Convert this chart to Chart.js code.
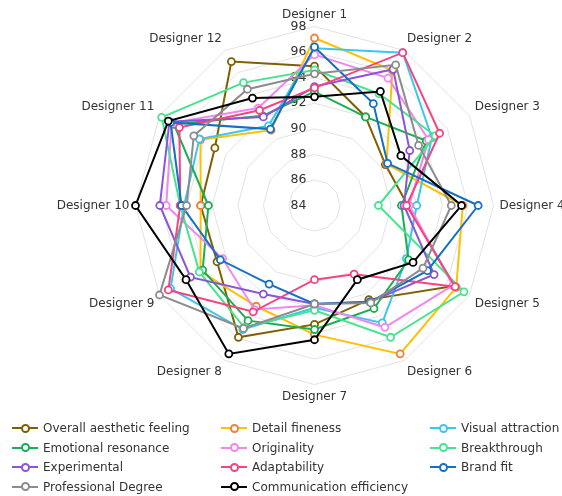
<!DOCTYPE html>
<html>
<head>
<meta charset="utf-8">
<script src="https://cdn.jsdelivr.net/npm/chart.js@4.4.1/dist/chart.umd.min.js"></script>
<style>
  html, body { margin: 0; padding: 0; background: #fff; }
  #wrap { position: relative; width: 562px; height: 496px; overflow: hidden; }
  #chart { position: absolute; left: 0; top: 0; }
  #legend { position: absolute; left: 0; top: 0; width: 562px; height: 496px; pointer-events: none;
            font: 12px "DejaVu Sans", sans-serif; color: #333; }
  .item { position: absolute; height: 20px; line-height: 20px; white-space: nowrap; }
  .icon { position: absolute; left: 0; top: 9px; width: 26px; height: 2px; }
  .icon i { position: absolute; left: 8.5px; top: -3.5px; width: 5px; height: 5px; border-radius: 50%;
            background: #fff; border: 2px solid; }
  .item span { position: absolute; left: 31px; top: 0; }
</style>
</head>
<body>
<div id="wrap">
  <canvas id="chart" width="562" height="496"></canvas>
  <div id="legend"></div>
</div>
<script>
// Axis categories
const designers = ['Designer 1', 'Designer 2', 'Designer 3', 'Designer 4', 'Designer 5', 'Designer 6',
                   'Designer 7', 'Designer 8', 'Designer 9', 'Designer 10', 'Designer 11', 'Designer 12'];

// Radial tick labels
const tickValues = [84, 86, 88, 90, 92, 94, 96, 98];

// Series names, in legend order
const seriesNames = ['Overall aesthetic feeling', 'Detail fineness', 'Visual attraction',
                     'Emotional resonance', 'Originality', 'Breakthrough',
                     'Experimental', 'Adaptability', 'Brand fit',
                     'Professional Degree', 'Communication efficiency'];

// Scores per designer (Designer 1 .. Designer 12)
const overallAesthetic = [94.9, 92.0, 90.4, 91.3, 96.6, 92.5, 93.3, 95.9, 92.8, 92.9, 93.0, 97.0];
const detailFineness   = [97.1, 96.2, 90.5, 95.6, 96.8, 97.4, 94.1, 93.1, 94.3, 92.9, 94.3, 90.8];
const visualAttraction = [96.3, 97.8, 94.6, 92.0, 92.3, 94.6, 92.0, 95.2, 97.0, 94.2, 94.4, 91.2];
const emotionalResonance = [92.9, 92.0, 94.1, 90.8, 92.5, 93.3, 93.7, 94.4, 94.1, 92.3, 96.7, 92.1];
const originality      = [95.8, 95.5, 94.3, 91.4, 96.5, 95.0, 91.8, 93.4, 92.3, 95.6, 96.9, 92.8];
const breakthrough     = [94.6, 94.1, 94.9, 89.0, 97.5, 95.9, 92.2, 95.0, 94.4, 94.5, 97.8, 95.1];
const experimental     = [93.3, 96.3, 92.6, 91.0, 94.8, 92.7, 91.7, 92.0, 95.2, 96.1, 97.1, 92.0];
const adaptability     = [93.2, 97.8, 95.3, 91.2, 96.7, 90.2, 89.8, 93.6, 97.2, 94.5, 96.2, 92.6];
const brandFit         = [96.4, 93.2, 90.6, 96.8, 94.2, 92.7, 91.7, 91.1, 92.5, 94.4, 97.0, 90.9];
const professionalDegree = [94.3, 96.7, 93.4, 94.7, 93.8, 92.8, 91.7, 95.1, 98.0, 94.0, 94.9, 94.5];
const communicationEfficiency = [92.5, 94.3, 91.8, 95.5, 92.9, 90.7, 94.5, 97.4, 95.6, 98.0, 97.2, 93.7];

const seriesValues = [overallAesthetic, detailFineness, visualAttraction, emotionalResonance,
                      originality, breakthrough, experimental, adaptability, brandFit,
                      professionalDegree, communicationEfficiency];

// Styling
const lineColors  = ['#7f6000', '#ffc000', '#3cc6ef', '#1aae52', '#ee88ee', '#48e38e',
                     '#8a55d8', '#f5447f', '#156fc4', '#8c8c8c', '#000000'];
const pointColors = ['#7f6000', '#f0813a', '#3cc6ef', '#1aae52', '#ee88ee', '#48e38e',
                     '#8a55d8', '#f5447f', '#156fc4', '#8c8c8c', '#000000'];

const FONT = '"DejaVu Sans", Verdana, sans-serif';
const CENTER_X = 314.5, CENTER_Y = 205.5, RADIUS = 179;
const LABEL_GAP = 6;
const LEGEND_COL_X = [12, 221, 430];
const LEGEND_ROW_Y = [418, 437.5, 457, 476.5];

const datasets = seriesNames.map((name, i) => ({
  label: name,
  data: seriesValues[i],
  borderColor: lineColors[i],
  backgroundColor: 'transparent',
  borderWidth: 2,
  fill: false,
  tension: 0,
  pointRadius: 3.5,
  pointHoverRadius: 3.5,
  pointBorderWidth: 1.8,
  pointBackgroundColor: '#fff',
  pointBorderColor: pointColors[i],
  clip: false,
  order: seriesNames.length - i
}));

// Axis names around the web and value labels along the vertical axis
const radarText = {
  id: 'radarText',
  beforeDatasetsDraw(chart) {
    const s = chart.scales.r;
    const ctx = chart.ctx;
    ctx.save();
    ctx.fillStyle = '#333';
    ctx.font = '12px ' + FONT;
    designers.forEach((name, i) => {
      const p = s.getPointPosition(i, s.drawingArea + LABEL_GAP);
      const a = s.getIndexAngle(i) - Math.PI / 2;
      const c = Math.cos(a), sn = Math.sin(a);
      ctx.textAlign = Math.abs(c) < 0.01 ? 'center' : (c > 0 ? 'left' : 'right');
      ctx.textBaseline = Math.abs(sn) < 0.01 ? 'middle' : (sn < 0 ? 'bottom' : 'top');
      ctx.fillText(name, p.x, p.y);
    });
    ctx.font = '12.5px ' + FONT;
    ctx.textAlign = 'right';
    ctx.textBaseline = 'middle';
    tickValues.forEach(v => {
      const d = s.getDistanceFromCenterForValue(v);
      ctx.fillText(String(v), s.xCenter - 8, s.yCenter - d);
    });
    ctx.restore();
  }
};

new Chart(document.getElementById('chart'), {
  type: 'radar',
  data: { labels: designers, datasets },
  options: {
    responsive: false,
    animation: false,
    events: [],
    plugins: { legend: { display: false }, tooltip: { enabled: false } },
    scales: {
      r: {
        min: 84,
        max: 98,
        ticks: { stepSize: 2, display: false },
        grid: { color: '#e2e2e2', lineWidth: 1 },
        angleLines: { display: false },
        pointLabels: { display: false },
        afterFit(scale) {
          scale.xCenter = CENTER_X;
          scale.yCenter = CENTER_Y;
          scale.drawingArea = RADIUS;
        }
      }
    }
  },
  plugins: [radarText]
});

// Legend laid out in three columns
const legend = document.getElementById('legend');
seriesNames.forEach((name, i) => {
  const item = document.createElement('div');
  item.className = 'item';
  item.style.left = LEGEND_COL_X[i % 3] + 'px';
  item.style.top = LEGEND_ROW_Y[Math.floor(i / 3)] + 'px';
  const icon = document.createElement('div');
  icon.className = 'icon';
  icon.style.background = lineColors[i];
  const dot = document.createElement('i');
  dot.style.borderColor = pointColors[i];
  icon.appendChild(dot);
  const text = document.createElement('span');
  text.textContent = name;
  item.appendChild(icon);
  item.appendChild(text);
  legend.appendChild(item);
});
</script>
</body>
</html>
